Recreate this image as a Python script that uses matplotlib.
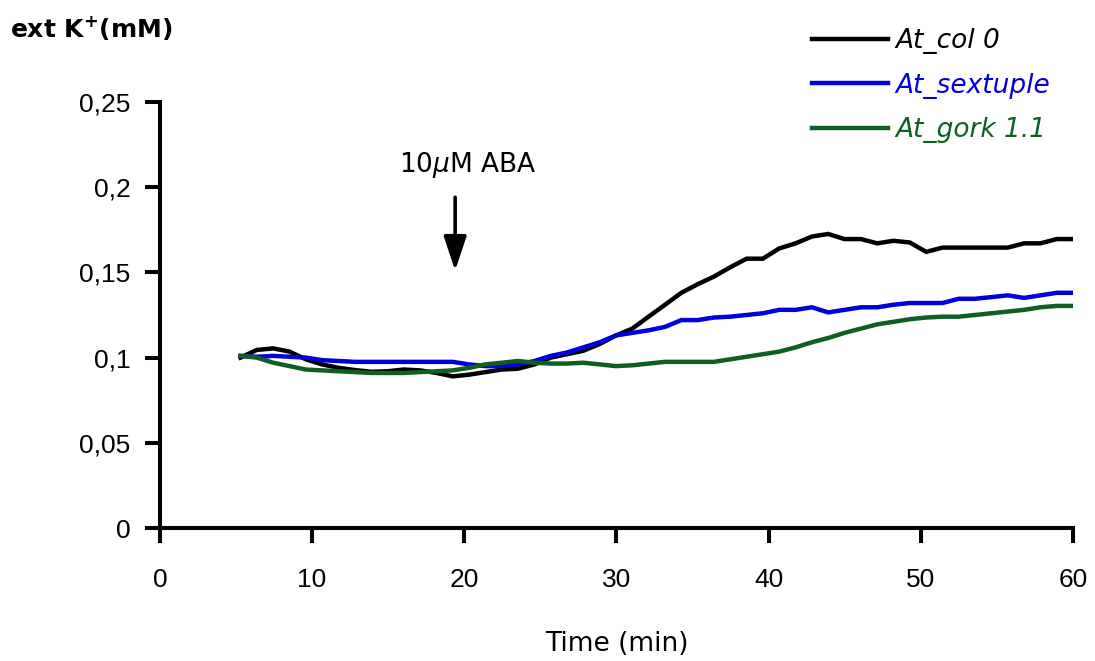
import matplotlib
matplotlib.use("Agg")
import matplotlib.pyplot as plt

plt.rcParams["font.family"] = ["DejaVu Sans"]

# sampling times (min) and external K+ (mM) for each line
time_min = [5.30, 6.37, 7.45, 8.52, 9.59, 10.66, 11.74, 12.81, 13.88, 14.95,
            16.03, 17.10, 18.17, 19.24, 20.32, 21.39, 22.46, 23.53, 24.61, 25.68,
            26.75, 27.82, 28.90, 29.97, 31.04, 32.11, 33.19, 34.26, 35.33, 36.40,
            37.48, 38.55, 39.62, 40.69, 41.77, 42.84, 43.91, 44.98, 46.06, 47.13,
            48.20, 49.27, 50.35, 51.42, 52.49, 53.56, 54.64, 55.71, 56.78, 57.85,
            58.93, 60.00]
col0 = [0.100, 0.1045, 0.1054, 0.1035, 0.099, 0.096, 0.094, 0.0927, 0.0917, 0.092,
        0.093, 0.0925, 0.091, 0.089, 0.090, 0.0915, 0.093, 0.0935, 0.096, 0.100,
        0.102, 0.104, 0.108, 0.113, 0.117, 0.124, 0.131, 0.138, 0.143, 0.1475,
        0.153, 0.158, 0.158, 0.164, 0.167, 0.171, 0.1725, 0.1695, 0.1695, 0.167,
        0.1685, 0.1675, 0.162, 0.1645, 0.1645, 0.1645, 0.1645, 0.1645, 0.167, 0.167,
        0.1695, 0.1695]
sextuple = [0.101, 0.1005, 0.101, 0.1005, 0.100, 0.0985, 0.098, 0.0975, 0.0975, 0.0975,
            0.0975, 0.0975, 0.0975, 0.0975, 0.096, 0.095, 0.095, 0.096, 0.098, 0.101,
            0.103, 0.106, 0.109, 0.113, 0.1145, 0.116, 0.118, 0.122, 0.122, 0.1235,
            0.124, 0.125, 0.126, 0.128, 0.128, 0.1295, 0.1265, 0.128, 0.1295, 0.1295,
            0.131, 0.132, 0.132, 0.132, 0.1345, 0.1345, 0.1355, 0.1365, 0.135, 0.1365,
            0.138, 0.138]
gork = [0.101, 0.100, 0.097, 0.095, 0.093, 0.0925, 0.092, 0.0915, 0.091, 0.091,
        0.091, 0.0915, 0.092, 0.0925, 0.094, 0.096, 0.097, 0.098, 0.097, 0.0965,
        0.0965, 0.097, 0.096, 0.095, 0.0955, 0.0965, 0.0975, 0.0975, 0.0975, 0.0975,
        0.099, 0.1005, 0.102, 0.1035, 0.106, 0.109, 0.1115, 0.1145, 0.117, 0.1195,
        0.121, 0.1225, 0.1235, 0.124, 0.124, 0.125, 0.126, 0.127, 0.128, 0.1295,
        0.1303, 0.1303]

series = [("At_col 0", col0, "#000000"),
          ("At_sextuple", sextuple, "#0000dd"),
          ("At_gork 1.1", gork, "#0f5f22")]

x_ticks = [0, 10, 20, 30, 40, 50, 60]
x_tick_labels = ["0", "10", "20", "30", "40", "50", "60"]
y_ticks = [0, 0.05, 0.1, 0.15, 0.2, 0.25]
y_tick_labels = ["0", "0,05", "0,1", "0,15", "0,2", "0,25"]

aba_time, aba_top, aba_tip = 19.4, 0.194, 0.151

NUM_FONT = "Liberation Sans"
FS = 19

fig = plt.figure(figsize=(10.95, 6.61), dpi=100)
ax = fig.add_axes([0.146, 0.201, 0.834, 0.645])

for label, vals, color in series:
    ax.plot(time_min, vals, color=color, lw=3.2, label=label, solid_joinstyle="miter")

ax.set_xlim(0, 60)
ax.set_ylim(0, 0.25)
ax.set_xticks(x_ticks)
ax.set_xticklabels(x_tick_labels, family=NUM_FONT, fontsize=FS)
ax.set_yticks(y_ticks)
ax.set_yticklabels(y_tick_labels, family=NUM_FONT, fontsize=FS)
for side in ("top", "right"):
    ax.spines[side].set_visible(False)
for side in ("left", "bottom"):
    ax.spines[side].set_linewidth(2.9)
ax.tick_params(axis="both", direction="out", length=11, width=2.9)
ax.tick_params(axis="x", pad=17.5)
ax.tick_params(axis="y", pad=10)
ax.set_xlabel("Time (min)", fontsize=FS, labelpad=28)

# ABA application marker
ax.annotate("", xy=(aba_time, aba_tip), xytext=(aba_time, aba_top),
            arrowprops=dict(arrowstyle="-|>,head_length=2.1,head_width=0.7",
                            color="black", lw=2.6, shrinkA=0, shrinkB=0))
ax.text(aba_time + 0.8, 0.213, "10$\\mu$M ABA", fontsize=FS, ha="center", va="center")

fig.text(0.009, 0.958, "ext K$^{\\mathbf{+}}$(mM)", fontsize=18, fontweight="bold",
         ha="left", va="center")

leg = ax.legend(loc="upper left", bbox_to_anchor=(0.714, 1.173), frameon=False,
                borderpad=0, borderaxespad=0,
                handlelength=2.88, handletextpad=0.27, labelspacing=0.70,
                labelcolor="linecolor",
                prop=dict(style="italic", size=FS))

fig.savefig("out.png", dpi=100)
